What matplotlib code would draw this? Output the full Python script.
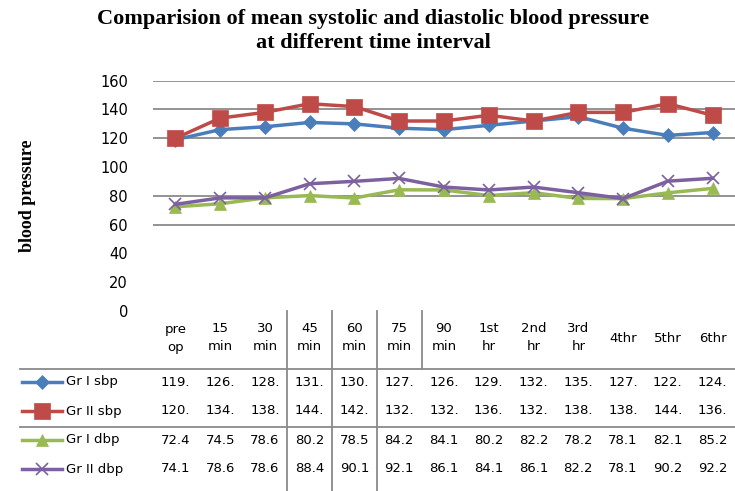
import matplotlib
matplotlib.use("Agg")
import matplotlib.pyplot as plt
import matplotlib.transforms as mtransforms
from matplotlib.lines import Line2D

categories = ["pre\nop", "15\nmin", "30\nmin", "45\nmin", "60\nmin", "75\nmin", "90\nmin",
              "1st\nhr", "2nd\nhr", "3rd\nhr", "4thr", "5thr", "6thr"]
series_names = ["Gr I sbp", "Gr II sbp", "Gr I dbp", "Gr II dbp"]
gr1_sbp = [119, 126, 128, 131, 130, 127, 126, 129, 132, 135, 127, 122, 124]
gr2_sbp = [120, 134, 138, 144, 142, 132, 132, 136, 132, 138, 138, 144, 136]
gr1_dbp = [72.4, 74.5, 78.6, 80.2, 78.5, 84.2, 84.1, 80.2, 82.2, 78.2, 78.1, 82.1, 85.2]
gr2_dbp = [74.1, 78.6, 78.6, 88.4, 90.1, 92.1, 86.1, 84.1, 86.1, 82.2, 78.1, 90.2, 92.2]
yticks = [0, 20, 40, 60, 80, 100, 120, 140, 160]
grid_levels = [60, 80, 120, 140, 160]

W, H = 735, 491
fig = plt.figure(figsize=(W / 100, H / 100), dpi=100)

def fx(px):
    return px / W

def fy(py):
    return 1 - py / H

ax = fig.add_axes([fx(153), fy(311), fx(735) - fx(153), fy(80.7) - fy(311)])
ax.set_xlim(-0.5, len(categories) - 0.5)
ax.set_ylim(0, 160)
for s in ax.spines.values():
    s.set_visible(False)
ax.set_xticks([])
ax.set_yticks(yticks)
ax.tick_params(axis="y", length=0, pad=18, labelsize=10.5)
for lv in grid_levels:
    ax.axhline(lv, color="#8a8a8a", lw=1.3, zorder=0)

colors = ["#4A7EBB", "#BE4B48", "#98B954", "#7D60A0"]
markers = ["D", "s", "^", "x"]
msizes = [7, 11, 8, 8]
series = [gr1_sbp, gr2_sbp, gr1_dbp, gr2_dbp]
x = list(range(len(categories)))
for vals, c, m, ms in zip(series, colors, markers, msizes):
    ax.plot(x, vals, color=c, lw=2.5, marker=m, markersize=ms,
            markeredgewidth=1.2 if m == "x" else 0.5, markeredgecolor=c, zorder=3)

# Title and y label
fig.text(0.508, fy(19), "Comparision of mean systolic and diastolic blood pressure",
         ha="center", va="center", fontsize=16, fontweight="bold", family="Liberation Serif")
fig.text(0.508, fy(43), "at different time interval",
         ha="center", va="center", fontsize=16, fontweight="bold", family="Liberation Serif")
fig.text(fx(28), fy(196), "blood pressure", rotation=90, ha="center", va="center",
         fontsize=13, fontweight="bold", family="Liberation Serif")

# Data table
bt = mtransforms.blended_transform_factory(ax.transData, fig.transFigure)
for i, lab in enumerate(categories):
    fig.text(i, fy(338), lab, transform=bt, ha="center", va="center", fontsize=9.5,
             linespacing=1.5)

row_y = [382, 411, 440, 469]
fmts = ["{:.0f}.", "{:.0f}.", "{:.1f}", "{:.1f}"]
for r, (vals, name, c, m, ms, fmt) in enumerate(zip(series, series_names, colors, markers, msizes, fmts)):
    yy = fy(row_y[r])
    fig.add_artist(Line2D([fx(22), fx(62)], [yy, yy], color=c, lw=2.5,
                          transform=fig.transFigure))
    fig.add_artist(Line2D([fx(42)], [yy], color=c, marker=m, markersize=ms,
                          markeredgecolor=c, markeredgewidth=1.2 if m == "x" else 0.5,
                          transform=fig.transFigure))
    fig.text(fx(66), yy, name, ha="left", va="center", fontsize=9.5)
    for i, v in enumerate(vals):
        fig.text(i, yy, fmt.format(v), transform=bt, ha="center", va="center", fontsize=9.5)

for py in [369, 427]:
    fig.add_artist(Line2D([fx(20), fx(735)], [fy(py), fy(py)], color="#8a8a8a", lw=1.3,
                          transform=fig.transFigure))
for bx in [2.5, 3.5, 4.5]:
    fig.add_artist(Line2D([bx, bx], [fy(311), fy(491)], color="#8a8a8a", lw=1.3, transform=bt))
fig.add_artist(Line2D([5.5, 5.5], [fy(311), fy(369)], color="#8a8a8a", lw=1.3, transform=bt))

fig.savefig("out.png", dpi=100)
